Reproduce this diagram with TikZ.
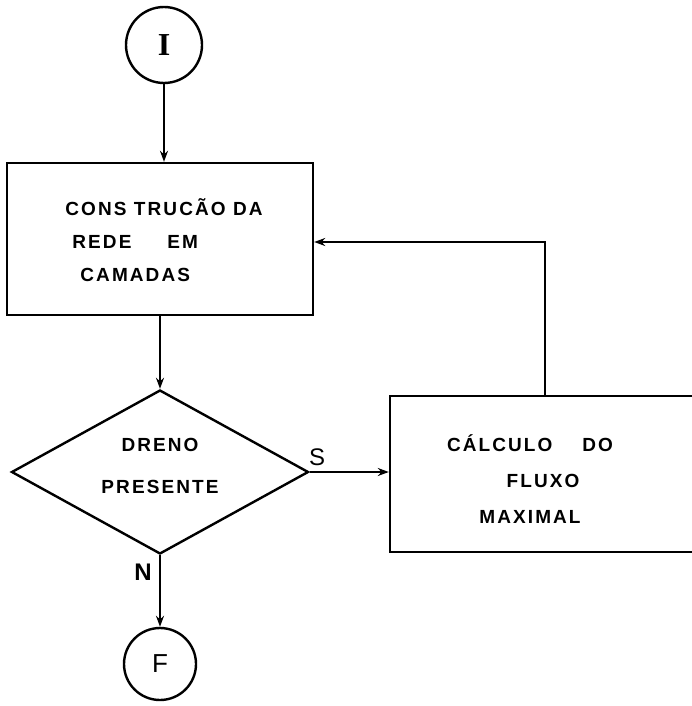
\documentclass[tikz,border=0pt]{standalone}
\usepackage{fontspec}
\setmainfont{Liberation Sans}
\newfontfamily\lbl[LetterSpace=11]{Liberation Sans}
\newfontfamily\serifI{Liberation Serif}
\usetikzlibrary{shapes.geometric,arrows.meta}
\begin{document}
\begin{tikzpicture}[x=1pt,y=-1pt,
  conn/.style={line width=2.4pt, -{Stealth[length=11pt,width=8pt]}},
  term/.style={circle, draw, line width=2.4pt, inner sep=0pt},
  procbox/.style={rectangle, draw, line width=2.4pt, inner sep=0pt},
  decbox/.style={diamond, draw, line width=2.4pt, inner sep=0pt},
  txt/.style={font=\lbl\bfseries\fontsize{19}{33}\selectfont, align=left, inner sep=0pt},
  lab/.style={font=\fontsize{24}{24}\selectfont, inner sep=0pt}
]
\useasboundingbox (0,0) rectangle (691,706);

\node[term, minimum size=76pt] (I) at (164,45) {\serifI\bfseries\fontsize{32}{32}\selectfont I};

\node[procbox, minimum width=306pt, minimum height=152pt] (box1) at (160,239) {};
\node[txt] (t1) at (164,240) {CONS TRUCÃO DA\\\hspace*{7pt}REDE\hspace{36pt}EM\\\hspace*{15pt}CAMADAS};

\node[decbox, minimum width=297pt, minimum height=164pt] (dia) at (160,472) {};
\node[txt, align=center, font=\lbl\bfseries\fontsize{19}{42}\selectfont] (t2) at (160,466) {DRENO\\PRESENTE};

\node[procbox, minimum width=303pt, minimum height=156pt] (box2) at (541.5,474) {};
\node[txt, align=center, font=\lbl\bfseries\fontsize{19}{36}\selectfont] (t3) at (530,479) {CÁLCULO\hspace{30pt}DO\\\hspace*{26pt}FLUXO\\MAXIMAL};

\node[term, minimum size=72pt] (F) at (160,664) {\fontsize{26}{26}\selectfont F};

\node[lab] (S) at (317,457) {S};
\node[lab, font=\bfseries\fontsize{24}{24}\selectfont] (N) at (143,572) {N};

\coordinate (fb) at (545,242);

\draw[conn] (I.south) -- (I.south |- box1.north);
\draw[conn] (box1.south -| dia.north) -- (dia.north);
\draw[conn] (dia.east) -- (box2.west |- dia.east);
\draw[conn] (dia.south) -- (F.north);
\draw[conn] (box2.north -| fb) -- (fb) -- (box1.east |- fb);
\end{tikzpicture}
\end{document}
